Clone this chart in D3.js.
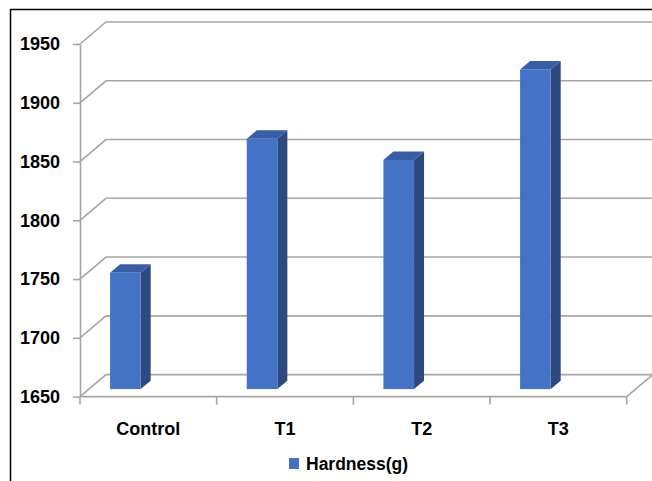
<!DOCTYPE html>
<html>
<head>
<meta charset="utf-8">
<script src="https://cdn.jsdelivr.net/npm/d3@7"></script>
<style>
    html, body { margin: 0; padding: 0; background: #fff; }
    svg { display: block; }
    text { font-family: "Liberation Sans", Arial, sans-serif; font-weight: bold; fill: #000; }
</style>
</head>
<body>
<svg id="chart"></svg>
<script>
const categories = ['Control', 'T1', 'T2', 'T3'];
const hardness = [1749, 1863, 1845, 1922];
const yTicks = [1650, 1700, 1750, 1800, 1850, 1900, 1950];
const seriesName = 'Hardness(g)';

const WIDTH = 652, HEIGHT = 481;
const DEPTH = {dx: 26, dy: -22};       // back wall offset
const BAR_DEPTH = {dx: 10, dy: -8.4};  // bar thickness
const BAR_SHIFT = -7.5;                // bar base sits behind floor edge

const svg = d3.select('#chart').attr('width', WIDTH).attr('height', HEIGHT);

const x = d3.scaleBand().domain(categories).range([80, 626.7]).padding(0);
const y = d3.scaleLinear().domain([1650, 1950]).range([396.6, 44]);

// frame
svg.append('rect')
    .attr('x', 10.5).attr('y', 9.5)
    .attr('width', 700).attr('height', 600)
    .attr('fill', 'none').attr('stroke', '#000').attr('stroke-width', 1.5);

const grid = svg.append('g').attr('stroke', '#a6a6a6').attr('stroke-width', 1.6).attr('fill', 'none');

// gridlines: diagonal on the side wall then along the back wall
grid.selectAll('path.grid')
    .data(yTicks)
    .enter()
    .append('path')
    .classed('grid', true)
    .attr('d', d => `M80,${y(d)}L${80 + DEPTH.dx},${y(d) + DEPTH.dy}L${WIDTH + 5},${y(d) + DEPTH.dy}`);

// floor front edge and right diagonal
const x0 = x.range()[0], x1 = x.range()[1];
grid.append('path')
    .attr('d', `M${x0},${y(1650)}L${x1},${y(1650)}L${x1 + DEPTH.dx},${y(1650) + DEPTH.dy}`);

// y axis
const yAxis = svg.append('g').attr('transform', 'translate(80,0)')
    .call(d3.axisLeft(y).tickValues(yTicks).tickFormat(d3.format('d'))
        .tickSize(7).tickPadding(13).tickSizeOuter(0));
yAxis.select('.domain').attr('stroke', '#a6a6a6').attr('stroke-width', 1.6);
yAxis.selectAll('.tick line').attr('stroke', '#a6a6a6').attr('stroke-width', 1.6);
yAxis.selectAll('.tick text').attr('font-size', 18).attr('font-family', null).attr('fill', '#000');

// x ticks at band edges
const edges = categories.map(c => x(c)).concat([x1]);
grid.selectAll('line.xtick')
    .data(edges)
    .enter()
    .append('line')
    .classed('xtick', true)
    .attr('x1', d => d).attr('x2', d => d)
    .attr('y1', y(1650)).attr('y2', y(1650) + 8);

// x labels
svg.selectAll('.xlabel')
    .data(categories)
    .enter()
    .append('text')
    .classed('xlabel', true)
    .attr('x', d => x(d) + x.bandwidth() / 2)
    .attr('y', 435)
    .attr('text-anchor', 'middle')
    .attr('font-size', 18)
    .text(d => d);

// bars
const bw = x.bandwidth() * 0.224;
const data = categories.map((c, i) => ({cat: c, value: hardness[i]}));
const bars = svg.selectAll('.bar')
    .data(data)
    .enter()
    .append('g')
    .classed('bar', true);

const bx = d => x(d.cat) + x.bandwidth() * 0.22;
const by0 = y(1650) + BAR_SHIFT;
const by1 = d => y(d.value) + BAR_SHIFT;

bars.append('path')
    .attr('fill', '#2c4a80')
    .attr('d', d => `M${bx(d) + bw},${by1(d)}L${bx(d) + bw + BAR_DEPTH.dx},${by1(d) + BAR_DEPTH.dy}` +
        `L${bx(d) + bw + BAR_DEPTH.dx},${by0 + BAR_DEPTH.dy}L${bx(d) + bw},${by0}Z`);
bars.append('path')
    .attr('fill', '#3a5ea6')
    .attr('d', d => `M${bx(d)},${by1(d)}L${bx(d) + BAR_DEPTH.dx},${by1(d) + BAR_DEPTH.dy}` +
        `L${bx(d) + bw + BAR_DEPTH.dx},${by1(d) + BAR_DEPTH.dy}L${bx(d) + bw},${by1(d)}Z`);
bars.append('rect')
    .attr('fill', '#4472c4')
    .attr('x', bx)
    .attr('y', by1)
    .attr('width', bw)
    .attr('height', d => by0 - by1(d));

// legend
const legend = svg.append('g');
legend.append('rect')
    .attr('x', 289).attr('y', 458)
    .attr('width', 10).attr('height', 11)
    .attr('fill', '#4472c4');
legend.append('text')
    .attr('x', 306).attr('y', 470)
    .attr('font-size', 17.5)
    .text(seriesName);
</script>
</body>
</html>
